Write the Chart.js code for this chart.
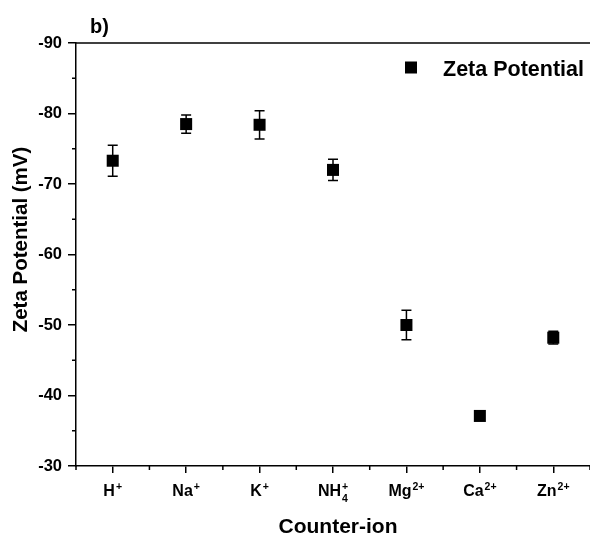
<!DOCTYPE html>
<html>
<head>
<meta charset="utf-8">
<script src="https://cdn.jsdelivr.net/npm/chart.js@4/dist/chart.umd.min.js"></script>
<style>
  html, body { margin: 0; padding: 0; background: #fff; }
  #wrap { position: relative; width: 590px; height: 534px; }
</style>
</head>
<body>
<div id="wrap"><canvas id="c"></canvas></div>
<script>
// ---- data ----
const categories = ['H\u207A', 'Na\u207A', 'K\u207A', 'NH\u2084\u207A', 'Mg\u00B2\u207A', 'Ca\u00B2\u207A', 'Zn\u00B2\u207A'];
const ionBase    = ['H', 'Na', 'K', 'NH', 'Mg', 'Ca', 'Zn'];
const ionSub     = ['', '', '', '4', '', '', ''];
const ionCharge  = ['+', '+', '+', '+', '2+', '2+', '2+'];
const zeta       = [-73.3, -78.5, -78.4, -72.0, -50.0, -37.1, -48.2];
const zetaErr    = [2.2, 1.3, 2.0, 1.5, 2.1, 0.5, 0.9];
const yTicks     = [-90, -80, -70, -60, -50, -40, -30];
const seriesName = 'Zeta Potential';
const xTitle     = 'Counter-ion';
const yTitle     = 'Zeta Potential (mV)';
const panelLabel = 'b)';

const FONT = '"Liberation Sans", Arial, Helvetica, sans-serif';
Chart.defaults.font.family = FONT;
Chart.defaults.color = '#000';

const decorations = {
  id: 'decorations',
  beforeDatasetsDraw(chart) {
    const ctx = chart.ctx, xs = chart.scales.x, ys = chart.scales.y;
    ctx.save();
    ctx.strokeStyle = '#000';
    ctx.lineWidth = 1.5;
    zeta.forEach((v, i) => {
      const x = xs.getPixelForValue(i);
      const y1 = ys.getPixelForValue(v - zetaErr[i]);
      const y2 = ys.getPixelForValue(v + zetaErr[i]);
      ctx.beginPath();
      ctx.moveTo(x, y1); ctx.lineTo(x, y2);
      ctx.moveTo(x - 5, y1); ctx.lineTo(x + 5, y1);
      ctx.moveTo(x - 5, y2); ctx.lineTo(x + 5, y2);
      ctx.stroke();
    });
    ctx.restore();
  },
  afterDraw(chart) {
    const ctx = chart.ctx, xs = chart.scales.x, ys = chart.scales.y;
    const a = chart.chartArea;
    ctx.save();
    ctx.strokeStyle = '#000';
    ctx.lineWidth = 1.5;
    // top frame line
    ctx.beginPath();
    ctx.moveTo(a.left, a.top); ctx.lineTo(a.right, a.top);
    ctx.stroke();
    // minor y ticks
    ctx.beginPath();
    for (let i = 0; i < yTicks.length - 1; i++) {
      const y = ys.getPixelForValue((yTicks[i] + yTicks[i + 1]) / 2);
      ctx.moveTo(a.left - 4, y); ctx.lineTo(a.left, y);
    }
    // minor x ticks (between categories)
    for (let i = 0; i <= categories.length; i++) {
      let x;
      if (i === 0) x = a.left;
      else if (i === categories.length) x = a.right;
      else x = (xs.getPixelForValue(i - 1) + xs.getPixelForValue(i)) / 2;
      ctx.moveTo(x, a.bottom); ctx.lineTo(x, a.bottom + 4);
    }
    ctx.stroke();

    // x tick labels with super/subscripts
    ctx.fillStyle = '#000';
    ctx.textBaseline = 'alphabetic';
    ctx.textAlign = 'left';
    const baseFont = 'bold 16px ' + FONT;
    const scrFont = 'bold 10.5px ' + FONT;
    const baseY = a.bottom + 30;
    categories.forEach((c, i) => {
      const x = xs.getPixelForValue(i);
      ctx.font = baseFont;
      const wb = ctx.measureText(ionBase[i]).width;
      ctx.font = scrFont;
      const ws = Math.max(ctx.measureText(ionSub[i]).width, ctx.measureText(ionCharge[i]).width);
      const total = wb + 1 + ws;
      const sx = x - total / 2;
      ctx.font = baseFont;
      ctx.fillText(ionBase[i], sx, baseY);
      ctx.font = scrFont;
      ctx.fillText(ionCharge[i], sx + wb + 1, baseY - 5.7);
      if (ionSub[i]) ctx.fillText(ionSub[i], sx + wb + 1, baseY + 5.7);
    });

    // axis titles
    ctx.font = 'bold 21px ' + FONT;
    ctx.textAlign = 'center';
    ctx.fillText(xTitle, 338, 532.5);
    ctx.save();
    ctx.translate(27, 239.5);
    ctx.rotate(-Math.PI / 2);
    ctx.font = 'bold 20.5px ' + FONT;
    ctx.fillText(yTitle, 0, 0);
    ctx.restore();

    // panel label
    ctx.textAlign = 'left';
    ctx.font = 'bold 20px ' + FONT;
    ctx.fillText(panelLabel, 90, 33);

    // legend
    ctx.fillRect(405, 61.5, 12, 12);
    ctx.font = 'bold 21.5px ' + FONT;
    ctx.fillText(seriesName, 443, 76);
    ctx.restore();
  }
};

new Chart(document.getElementById('c'), {
  type: 'line',
  data: {
    labels: categories,
    datasets: [{
      label: seriesName,
      data: zeta,
      showLine: false,
      pointStyle: 'rect',
      pointRadius: 8.5,
      pointHoverRadius: 8.5,
      pointBorderWidth: 0,
      pointBackgroundColor: '#000',
      borderColor: '#000',
      backgroundColor: '#000',
      clip: false
    }]
  },
  options: {
    responsive: true,
    maintainAspectRatio: false,
    animation: false,
    events: [],
    layout: { autoPadding: false, padding: { top: 43, right: 0, bottom: 0, left: 0 } },
    plugins: { legend: { display: false }, tooltip: { enabled: false }, title: { display: false } },
    scales: {
      x: {
        type: 'category',
        offset: true,
        grid: { display: true, offset: false, drawOnChartArea: false, drawTicks: true, tickLength: 7, color: '#000', lineWidth: 1.5 },
        border: { display: true, color: '#000', width: 1.5 },
        ticks: { display: false },
        afterFit(s) { s.height = 68; }
      },
      y: {
        type: 'linear',
        reverse: true,
        min: -90,
        max: -30,
        afterBuildTicks(s) { s.ticks = yTicks.map(v => ({ value: v })); },
        grid: { display: true, drawOnChartArea: false, drawTicks: true, tickLength: 8, color: '#000', lineWidth: 1.5 },
        border: { display: true, color: '#000', width: 1.5 },
        ticks: { color: '#000', padding: 6, font: { size: 16.5, weight: 'bold' } },
        afterFit(s) { s.width = 76; }
      }
    }
  },
  plugins: [decorations]
});
</script>
</body>
</html>
